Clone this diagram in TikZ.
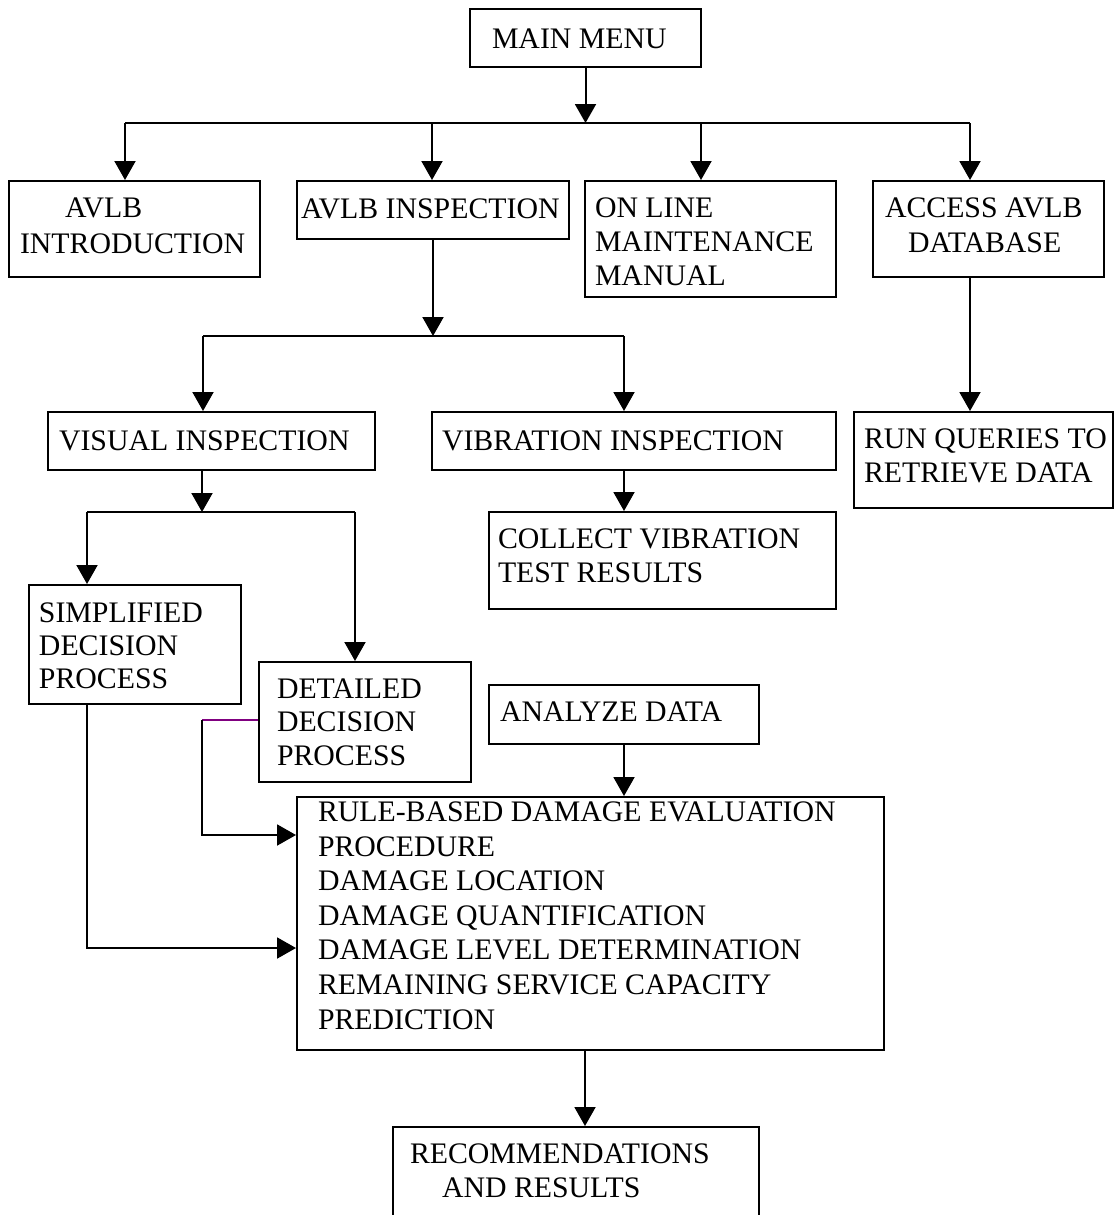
\documentclass[tikz,border=0pt]{standalone}
\usepackage{fontspec}
\setmainfont{Liberation Serif}
\usetikzlibrary{arrows.meta,fit}
\definecolor{linkpurple}{RGB}{128,0,128}
\begin{document}
\begin{tikzpicture}[x=0.5pt,y=-0.5pt,line width=1pt,
  box/.style={draw,line width=1pt,inner sep=0pt},
  txt/.style={inner sep=0pt,anchor=base west,align=left,
    font=\fontsize{14.9pt}{17pt}\selectfont},
  arr/.style={-{Triangle[length=9.5pt,width=10.5pt]}}]
\useasboundingbox (0,0) rectangle (1115,1215);
\clip (0,0) rectangle (1115,1215);

% boxes
\node[box,fit={(470,9) (701,67)}] (mm) {};
\node[box,fit={(9,181) (260,277)}] (intro) {};
\node[box,fit={(297,181) (569,239)}] (insp) {};
\node[box,fit={(585,181) (836,297)}] (online) {};
\node[box,fit={(873,181) (1104,277)}] (access) {};
\node[box,fit={(48,412) (375,470)}] (vis) {};
\node[box,fit={(432,412) (836,470)}] (vib) {};
\node[box,fit={(854,412) (1113,508)}] (run) {};
\node[box,fit={(489,512) (836,609)}] (col) {};
\node[box,fit={(29,585) (241,704)}] (simp) {};
\node[box,fit={(259,662) (471,782)}] (det) {};
\node[box,fit={(489,685) (759,744)}] (ana) {};
\node[box,fit={(297,797) (884,1050)}] (rule) {};
\node[box,fit={(393,1127) (759,1250)}] (rec) {};

% texts (multi-line texts are placed by the baseline of their last line)
\node[txt] (tmm) at (491,48) {MAIN MENU};
\node[txt,font=\fontsize{14.9pt}{18pt}\selectfont] (tintro) at (19,253) {\hspace{22.5pt}AVLB\\INTRODUCTION};
\node[txt] (tinsp) at (300,218) {AVLB INSPECTION};
\node[txt] (tonline) at (594,285) {ON LINE\\MAINTENANCE\\MANUAL};
\node[txt,font=\fontsize{14.9pt}{17.5pt}\selectfont] (taccess) at (884,252) {ACCESS AVLB\\\hspace{11.5pt}DATABASE};
\node[txt] (tvis) at (58,450) {VISUAL INSPECTION};
\node[txt] (tvib) at (441,450) {VIBRATION INSPECTION};
\node[txt] (trun) at (863,482) {RUN QUERIES TO\\RETRIEVE DATA};
\node[txt] (tcol) at (497,582) {COLLECT VIBRATION\\TEST RESULTS};
\node[txt,font=\fontsize{14.9pt}{16.5pt}\selectfont] (tsimp) at (38,688) {SIMPLIFIED\\DECISION\\PROCESS};
\node[txt,font=\fontsize{14.9pt}{16.75pt}\selectfont] (tdet) at (276,765) {DETAILED\\DECISION\\PROCESS};
\node[txt] (tana) at (499,721) {ANALYZE DATA};
\node[txt,font=\fontsize{14.9pt}{17.3pt}\selectfont] (trule) at (317,1029)
  {RULE-BASED DAMAGE EVALUATION\\PROCEDURE\\DAMAGE LOCATION\\DAMAGE QUANTIFICATION\\DAMAGE LEVEL DETERMINATION\\REMAINING SERVICE CAPACITY\\PREDICTION};
\node[txt] (trec) at (409,1197) {RECOMMENDATIONS\\\hspace{16pt}AND RESULTS};

% junction points of the connectors
\coordinate (busL) at (125,123);
\coordinate (busA) at (432,123);
\coordinate (busB) at (701,123);
\coordinate (busR) at (970,123);
\coordinate (bus2L) at (203,336);
\coordinate (bus2R) at (624,336);
\coordinate (bus3L) at (87,512);
\coordinate (bus3M) at (202,512);
\coordinate (bus3R) at (355,512);
\coordinate (bend1) at (202,720);
\coordinate (bend2) at (202,835);
\coordinate (bend3) at (87,948);
\coordinate (down) at (585,1050);

% main menu fan-out
\draw[arr] (mm.south) -- (mm.south |- busL);
\draw (busL) -- (busR);
\draw[arr] (busL) -- (busL |- intro.north);
\draw[arr] (busA) -- (busA |- insp.north);
\draw[arr] (busB) -- (busB |- online.north);
\draw[arr] (busR) -- (busR |- access.north);

% inspection branch
\draw[arr] (insp.south) -- (insp.south |- bus2L);
\draw (bus2L) -- (bus2R);
\draw[arr] (bus2L) -- (bus2L |- vis.north);
\draw[arr] (bus2R) -- (bus2R |- vib.north);
\draw[arr] (busR |- access.south) -- (busR |- run.north);

% visual branch
\draw[arr] (bus3M |- vis.south) -- (bus3M);
\draw (bus3L) -- (bus3R);
\draw[arr] (bus3L) -- (bus3L |- simp.north);
\draw[arr] (bus3R) -- (bus3R |- det.north);
\draw[arr] (bus2R |- vib.south) -- (bus2R |- col.north);

% into the evaluation procedure
\draw[linkpurple,line width=0.8pt] (det.west |- bend1) -- (bend1);
\draw[arr] (bend1) -- (bend2) -- (bend2 -| rule.west);
\draw[arr] (bus3L |- simp.south) -- (bend3) -- (bend3 -| rule.west);
\draw[arr] (ana.south) -- (ana.south |- rule.north);
\draw[arr] (down) -- (down |- rec.north);
\end{tikzpicture}
\end{document}
